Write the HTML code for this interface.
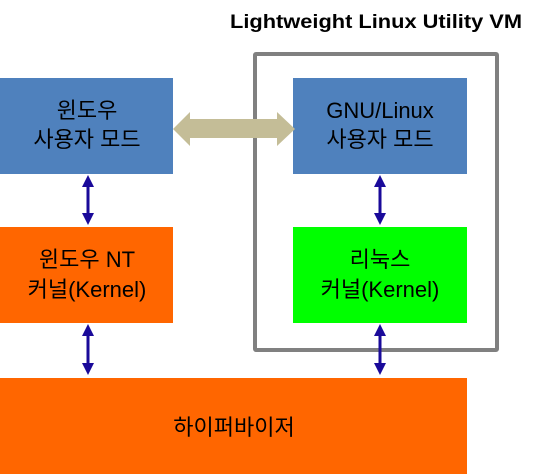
<!DOCTYPE html>
<html><head><meta charset="utf-8"><style>
html,body{margin:0;padding:0;background:#fff;width:535px;height:474px;overflow:hidden}
text{font-family:"Liberation Sans","Noto Sans CJK KR",sans-serif}
</style></head><body>
<svg width="535" height="474" xmlns="http://www.w3.org/2000/svg">
<text x="230" y="28" font-size="19" font-weight="bold" fill="#000" textLength="292" lengthAdjust="spacingAndGlyphs">Lightweight Linux Utility VM</text>
<rect x="255" y="54" width="242" height="296" fill="none" stroke="#808080" stroke-width="4" rx="1"/>
<rect x="0" y="78" width="173" height="96" fill="#4f81bd"/>
<rect x="293" y="78" width="174" height="96" fill="#4f81bd"/>
<rect x="0" y="227" width="173" height="96" fill="#ff6600"/>
<rect x="293" y="227" width="174" height="96" fill="#00ff00"/>
<rect x="0" y="378" width="467" height="96" fill="#ff6600"/>
<polygon points="173,129 190,112 190,119 277,119 277,112 295,129 277,146 277,138 190,138 190,146" fill="#c4bd97"/>
<g stroke="#1a0a9a" stroke-width="3" fill="#1a0a9a">
<line x1="88" y1="182" x2="88" y2="218"/>
<line x1="380" y1="182" x2="380" y2="218"/>
<line x1="88" y1="332" x2="88" y2="368"/>
<line x1="380" y1="332" x2="380" y2="368"/>
</g>
<g fill="#1a0a9a">
<polygon points="88,175 82,187 94,187"/><polygon points="88,225 82,213 94,213"/>
<polygon points="380,175 374,187 386,187"/><polygon points="380,225 374,213 386,213"/>
<polygon points="88,324 82,336 94,336"/><polygon points="88,375 82,363 94,363"/>
<polygon points="380,324 374,336 386,336"/><polygon points="380,375 374,363 386,363"/>
</g>
<g font-size="22" fill="#000" text-anchor="middle">
<text x="87" y="118">윈도우</text><text x="87" y="147">사용자 모드</text>
<text x="380" y="118">GNU/Linux</text><text x="380" y="147">사용자 모드</text>
<text x="87" y="267">윈도우 NT</text><text x="87" y="297">커널(Kernel)</text>
<text x="380" y="267">리눅스</text><text x="380" y="297">커널(Kernel)</text>
<text x="234" y="435">하이퍼바이저</text>
</g>
</svg>
</body></html>
